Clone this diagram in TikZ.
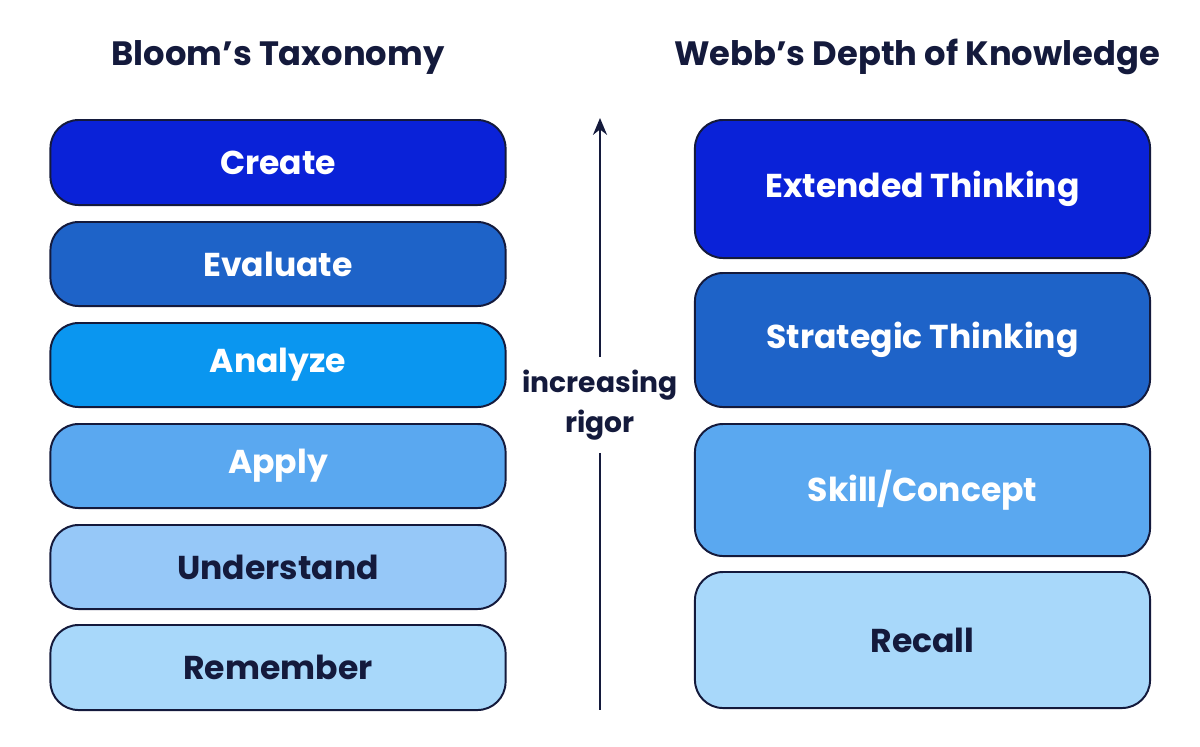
\documentclass[tikz,border=0pt]{standalone}
\usepackage{fontspec}
\setmainfont{Poppins}
\usetikzlibrary{arrows.meta}
\definecolor{navy}{HTML}{141A3C}
\definecolor{lvA}{HTML}{0A22D8}
\definecolor{lvB}{HTML}{1E63C8}
\definecolor{lvC}{HTML}{0A96F0}
\definecolor{lvD}{HTML}{5AA8F0}
\definecolor{lvE}{HTML}{96C8F8}
\definecolor{lvF}{HTML}{A8D8FA}
\tikzset{
  level/.style={draw=navy, line width=1.4pt, rounded corners=20pt, minimum width=11.375cm, font=\fontsize{23.5}{26}\selectfont\bfseries},
  title/.style={text=navy, font=\fontsize{24}{26}\selectfont\bfseries},
}
\begin{document}
\begin{tikzpicture}[x=0.025cm,y=-0.025cm]
		\useasboundingbox (0,0) rectangle (1200,746);
		\node[title] (bloom) at (278,57) {Bloom’s Taxonomy};
		\node[title] (webb) at (917,57) {Webb’s Depth of Knowledge};
		% Bloom levels
		\node[level, fill=lvA, text=white, minimum height=2.125cm] (create) at (278,162.5) {Create};
		\node[level, fill=lvB, text=white, minimum height=2.1cm] (evaluate) at (278,264) {Evaluate};
		\node[level, fill=lvC, text=white, minimum height=2.1cm] (analyze) at (278,365) {Analyze};
		\node[level, fill=lvD, text=white, minimum height=2.1cm] (apply) at (278,466) {Apply};
		\node[level, fill=lvE, text=navy, minimum height=2.1cm] (understand) at (278,567) {Understand};
		\node[level, fill=lvF, text=navy, minimum height=2.125cm] (remember) at (278,667.5) {Remember};
		% Webb levels
		\node[level, fill=lvA, text=white, minimum height=3.45cm] (extended) at (922.5,189) {Extended Thinking};
		\node[level, fill=lvB, text=white, minimum height=3.35cm] (strategic) at (922.5,340) {Strategic Thinking};
		\node[level, fill=lvD, text=white, minimum height=3.3cm] (skill) at (922.5,490) {Skill/Concept};
		\node[level, fill=lvF, text=navy, minimum height=3.4cm] (recall) at (922.5,640) {Recall};
		% rigor arrow
		\node[text=navy, align=center, font=\fontsize{20}{28}\selectfont\bfseries] (rigor) at (600,405) {increasing\\rigor};
		\coordinate (arrowtop) at (600,118);
		\coordinate (arrowbot) at (600,710);
		\draw[navy, line width=1.4pt, -{Stealth[length=12pt,width=10pt]}] (rigor.north) ++(0,-8) -- (arrowtop);
		\draw[navy, line width=1.4pt] (rigor.south) ++(0,8) -- (arrowbot);
\end{tikzpicture}
\end{document}
